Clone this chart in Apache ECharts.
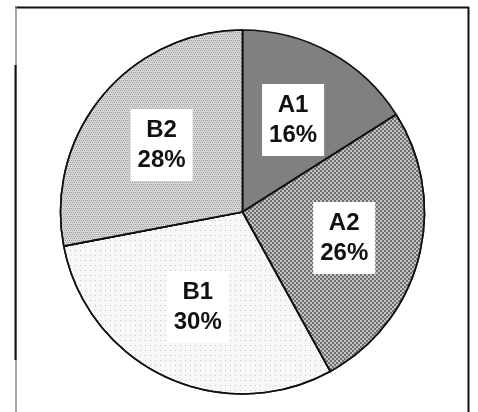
<!DOCTYPE html>
<html>
<head>
<meta charset="utf-8">
<script src="https://cdn.jsdelivr.net/npm/echarts@6/dist/echarts.min.js"></script>
<style>
html,body{margin:0;padding:0;background:#fff;}
#c{width:478px;height:412px;}
</style>
</head>
<body>
<div id="c"></div>
<script>
var categories = ['A1', 'A2', 'B1', 'B2'];
var values = [16, 26, 30, 28];

var fills = ['#808080', '#c4c4c4', '#f7f7f7', '#d8d8d8'];
var decals = [
  null,
  {symbol: 'rect', symbolSize: 1, color: '#6e6e6e', dashArrayX: [[2, 2], [0, 2, 2, 0]], dashArrayY: [2, 0], rotation: 0},
  {symbol: 'rect', symbolSize: 1, color: '#c4c4c4', dashArrayX: [1, 4], dashArrayY: [1, 4], rotation: 0},
  {symbol: 'rect', symbolSize: 1, color: '#9a9a9a', dashArrayX: [[1, 1], [0, 1, 1, 0]], dashArrayY: [1, 1], rotation: 0}
];

var pieData = categories.map(function (c, i) {
  var it = {name: c, value: values[i], itemStyle: {color: fills[i]}};
  if (decals[i]) it.itemStyle.decal = decals[i];
  return it;
});
var labelData = categories.map(function (c, i) {
  return {name: c, value: values[i]};
});

var chart = echarts.init(document.getElementById('c'), null, {renderer: 'canvas'});
chart.setOption({
  animation: false,
  backgroundColor: '#ffffff',
  series: [
    {
      type: 'pie',
      center: [242.5, 212],
      radius: [0, 182],
      startAngle: 90,
      clockwise: true,
      silent: true,
      label: {show: false},
      labelLine: {show: false},
      itemStyle: {borderColor: '#111', borderWidth: 1.6},
      data: pieData
    },
    {
      type: 'pie',
      center: [242.5, 212],
      radius: [0, 204],
      startAngle: 90,
      clockwise: true,
      silent: true,
      itemStyle: {color: 'rgba(0,0,0,0)', borderWidth: 0},
      labelLine: {show: false},
      label: {
        show: true,
        position: 'inside',
        formatter: function (p) { return p.name + '\n' + p.value + '%'; },
        fontFamily: 'Liberation Sans, Arial, sans-serif',
        fontWeight: 'bold',
        fontSize: 24,
        lineHeight: 30,
        color: '#111',
        backgroundColor: '#ffffff',
        padding: [6, 7, 6, 7]
      },
      data: labelData
    }
  ],
  graphic: [
    {type: 'line', shape: {x1: 15, y1: 7.5, x2: 469, y2: 7.5}, style: {stroke: '#111', lineWidth: 2}},
    {type: 'line', shape: {x1: 16, y1: 7, x2: 16, y2: 412}, style: {stroke: '#888', lineWidth: 1.5}},
    {type: 'line', shape: {x1: 15.5, y1: 65, x2: 15.5, y2: 360}, style: {stroke: '#111', lineWidth: 2}},
    {type: 'line', shape: {x1: 468.5, y1: 7, x2: 468.5, y2: 412}, style: {stroke: '#111', lineWidth: 2}}
  ]
});
</script>
</body>
</html>
